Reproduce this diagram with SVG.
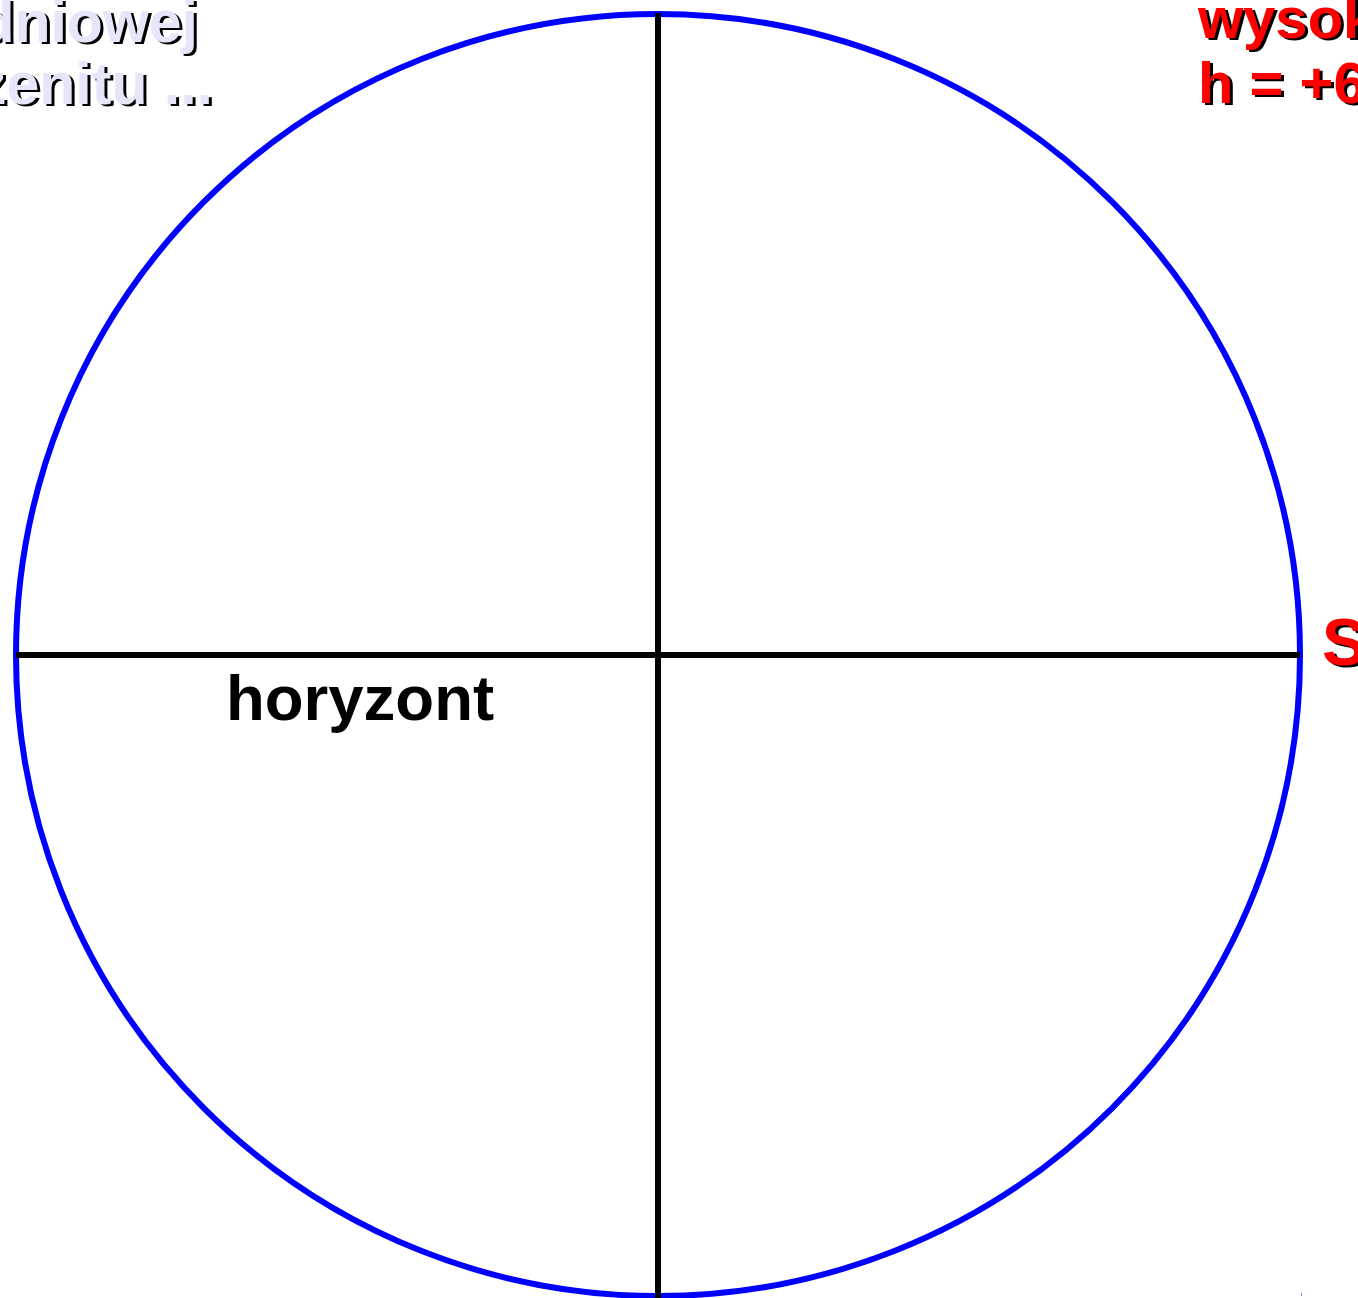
<svg xmlns="http://www.w3.org/2000/svg" width="1358" height="1298" viewBox="0 0 1358 1298">
<style>
.t{font-family:"Liberation Sans",Arial,sans-serif;font-weight:bold}
.sh{fill:#000}
.lav{fill:#e6e6fa}
.red{fill:#ff0000}
.ln{stroke:#000;stroke-width:6;fill:none}
</style>
<rect width="1358" height="1298" fill="#fff"/>
<g id="circle">
<ellipse cx="658" cy="655" rx="642" ry="641" fill="none" stroke="#0000ff" stroke-width="6"/>
</g>
<g id="connectors">
<line class="ln" x1="658" y1="13" x2="658" y2="1298"/>
<line class="ln" x1="16" y1="655" x2="1300" y2="655"/>
</g>
<g id="label-left" class="t" font-size="59" text-anchor="end">
<text class="sh" x="201" y="44">dniowej</text>
<text class="lav" x="198" y="42">dniowej</text>
<text class="sh" x="216" y="106">zenitu ...</text>
<text class="lav" x="213" y="104">zenitu ...</text>
</g>
<g id="label-right" class="t" font-size="58">
<text class="sh" x="1201" y="40">wysok</text>
<text class="red" x="1198" y="38">wysok</text>
<text class="sh" x="1201" y="105">h = +6</text>
<text class="red" x="1198" y="103">h = +6</text>
</g>
<g id="label-S" class="t" font-size="66">
<text class="sh" x="1325" y="667">S</text>
<text class="red" x="1322" y="665">S</text>
</g>
<g id="label-horyzont">
<text class="t" x="226" y="720" font-size="63.5" fill="#000">horyzont</text>
</g>
<rect x="1301" y="1293" width="1" height="3" fill="#8080ff"/>
</svg>
